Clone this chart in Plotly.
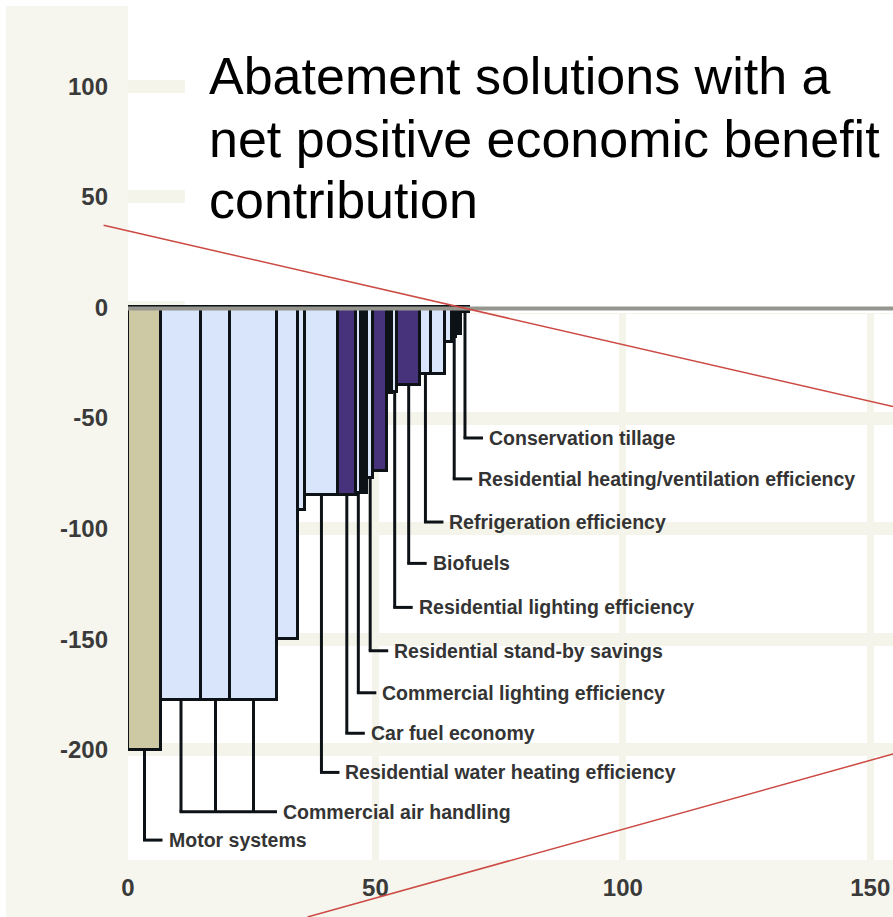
import plotly.graph_objects as go

# ---------------- data ----------------
# abatement potential (bar widths) and cost (bar heights), left to right
BAR_WIDTHS = [6.67, 8.08, 5.86, 9.50, 4.34, 1.31, 6.67, 3.58, 1.07, 1.21, 1.31,
              2.83, 0.91, 1.11, 4.55, 2.22, 2.83, 1.42, 0.91, 0.91, 1.62]
BAR_COSTS = [-200, -177.5, -177.5, -177.5, -150, -91.5, -85, -85, -84, -84, -77,
             -74, -38.7, -38.2, -35, -30, -30, -15.4, -13.2, -11.8, -2]
BAR_GROUPS = ["industry", "buildings", "buildings", "buildings", "buildings", "buildings",
              "buildings", "transport", "buildings", "other", "buildings",
              "transport", "other", "buildings", "transport", "buildings", "buildings",
              "buildings", "other", "other", "other"]
BAR_NAMES = ["Motor systems",
             "Commercial air handling", "Commercial air handling", "Commercial air handling",
             "", "",
             "Residential water heating efficiency",
             "Car fuel economy",
             "Commercial lighting efficiency",
             "",
             "Residential stand-by savings",
             "", "",
             "Residential lighting efficiency",
             "Biofuels",
             "Refrigeration efficiency",
             "", "",
             "Residential heating/ventilation efficiency",
             "",
             "Conservation tillage"]

# labels listed top to bottom
LABEL_ORDER = ["Conservation tillage",
               "Residential heating/ventilation efficiency",
               "Refrigeration efficiency",
               "Biofuels",
               "Residential lighting efficiency",
               "Residential stand-by savings",
               "Commercial lighting efficiency",
               "Car fuel economy",
               "Residential water heating efficiency",
               "Commercial air handling",
               "Motor systems"]

X_TICKS = [0, 50, 100, 150]
X_TICK_TEXT = ["0", "50", "100", "150"]
Y_TICKS = [100, 50, 0, -50, -100, -150, -200]
Y_TICK_TEXT = ["100", "50", "0", "-50", "-100", "-150", "-200"]

TITLE_LINES = ["Abatement solutions with a",
               "net positive economic benefit",
               "contribution"]

# ---------------- style / layout ----------------
W, H = 893, 917
ML, MR, MT, MB = 128, 0, 6, 57
PW, PH = W - ML - MR, H - MT - MB
X_RANGE = [0, 154.6]
Y_RANGE = [-249.8, 136.3]

COLORS = {"industry": "#cdc9a4", "buildings": "#d9e5fb",
          "transport": "#47337b", "other": "#0d1217"}
OUTLINE = "#0d1217"
PAPER = "#f6f6ee"
GRID = "#f4f4ea"
TEXT = "#343434"
RED = "#cc4a44"
SANS = "Liberation Sans, Arial, Helvetica, sans-serif"

# label rows (y in data units), top to bottom
LABEL_ROWS = [-59, -77.5, -97, -115.7, -135.6, -155.2, -174.2, -192.5, -210.2, -228, -240.8]
X_PER_PX = (X_RANGE[1] - X_RANGE[0]) / PW
HOOK = 18 * X_PER_PX      # horizontal leader length
GAP = 4 * X_PER_PX        # gap between leader and text


def px_to_paper(px, py):
    return (px - ML) / PW, (H - MB - py) / PH


# bar geometry from widths
lefts, centers = [], []
acc = 0.0
for w in BAR_WIDTHS:
    lefts.append(acc)
    centers.append(acc + w / 2)
    acc += w

fig = go.Figure()
fig.add_trace(go.Bar(
    x=centers, y=BAR_COSTS, width=BAR_WIDTHS,
    marker=dict(color=[COLORS[g] for g in BAR_GROUPS],
                line=dict(color=OUTLINE, width=3)),
    hoverinfo="skip", showlegend=False))

shapes = []
annotations = []

# white title box above the zero line
shapes.append(dict(type="rect", xref="x", yref="y", x0=11.5, x1=200, y0=-2.5, y1=300,
                   fillcolor="white", line=dict(width=0), layer="between"))
# zero line
shapes.append(dict(type="line", xref="x", yref="y", x0=0, x1=200, y0=-0.5, y1=-0.5,
                   line=dict(color="#96968f", width=4), layer="above"))

# leaders and labels
for name, row_y in zip(LABEL_ORDER, LABEL_ROWS):
    idx = [i for i, n in enumerate(BAR_NAMES) if n == name]
    xs = [centers[i] for i in idx]
    for i in idx:
        shapes.append(dict(type="line", xref="x", yref="y",
                           x0=centers[i], x1=centers[i], y0=BAR_COSTS[i], y1=row_y,
                           line=dict(color=OUTLINE, width=3), layer="above"))
    if len(idx) > 1:
        hend = lefts[idx[-1]] + BAR_WIDTHS[idx[-1]]
    else:
        hend = xs[0] + HOOK
    shapes.append(dict(type="line", xref="x", yref="y",
                       x0=min(xs) - 0.3, x1=hend, y0=row_y, y1=row_y,
                       line=dict(color=OUTLINE, width=3), layer="above"))
    annotations.append(dict(x=hend + GAP, y=row_y, xref="x", yref="y",
                            text=name, showarrow=False, xanchor="left", yanchor="middle",
                            font=dict(family=SANS, size=19.5, color=TEXT, weight="bold")))

# title
title_centers = [76, 138.7, 200]
for line, cy in zip(TITLE_LINES, title_centers):
    px, py = px_to_paper(207, cy)
    annotations.append(dict(x=px, y=py, xref="paper", yref="paper", text=line,
                            showarrow=False, xanchor="left", yanchor="middle",
                            font=dict(family=SANS, size=52, color="black")))

# red callout lines
for (ax0, ay0), (ax1, ay1) in [((103.6, 225.3), (893, 406.6)),
                               ((307.5, 917), (893, 754))]:
    x0, y0 = px_to_paper(ax0, ay0)
    x1, y1 = px_to_paper(ax1, ay1)
    shapes.append(dict(type="line", xref="paper", yref="paper", x0=x0, y0=y0, x1=x1, y1=y1,
                       line=dict(color=RED, width=1.5), layer="above"))

# white page border (left and top)
lx0, _ = px_to_paper(0, 0)
lx1, _ = px_to_paper(6, 0)
_, ty0 = px_to_paper(0, 6)
_, ty1 = px_to_paper(0, -2)
_, by0 = px_to_paper(0, H + 2)
shapes.append(dict(type="rect", xref="paper", yref="paper", x0=lx0 - 0.01, x1=lx1,
                   y0=by0, y1=ty1, fillcolor="white", line=dict(width=0), layer="above"))
shapes.append(dict(type="rect", xref="paper", yref="paper", x0=lx0 - 0.01, x1=1.01,
                   y0=ty0, y1=ty1, fillcolor="white", line=dict(width=0), layer="above"))

tickfont = dict(family=SANS, size=24, color="#3a3a3a", weight="bold")
fig.update_layout(
    width=W, height=H,
    margin=dict(l=ML, r=MR, t=MT, b=MB, pad=0),
    paper_bgcolor=PAPER, plot_bgcolor="white",
    shapes=shapes, annotations=annotations,
    bargap=0,
    xaxis=dict(range=X_RANGE, tickvals=X_TICKS, ticktext=X_TICK_TEXT,
               showgrid=True, gridcolor=GRID, gridwidth=7, zeroline=False,
               showline=False, ticks="", ticklabelstandoff=11, tickfont=tickfont,
               ticklabeloverflow="allow", fixedrange=True),
    yaxis=dict(range=Y_RANGE, tickvals=Y_TICKS, ticktext=Y_TICK_TEXT,
               showgrid=True, gridcolor=GRID, gridwidth=13, zeroline=False,
               showline=False, ticks="", ticklabelstandoff=19, tickfont=tickfont,
               fixedrange=True),
)

fig.write_html("out.html")
